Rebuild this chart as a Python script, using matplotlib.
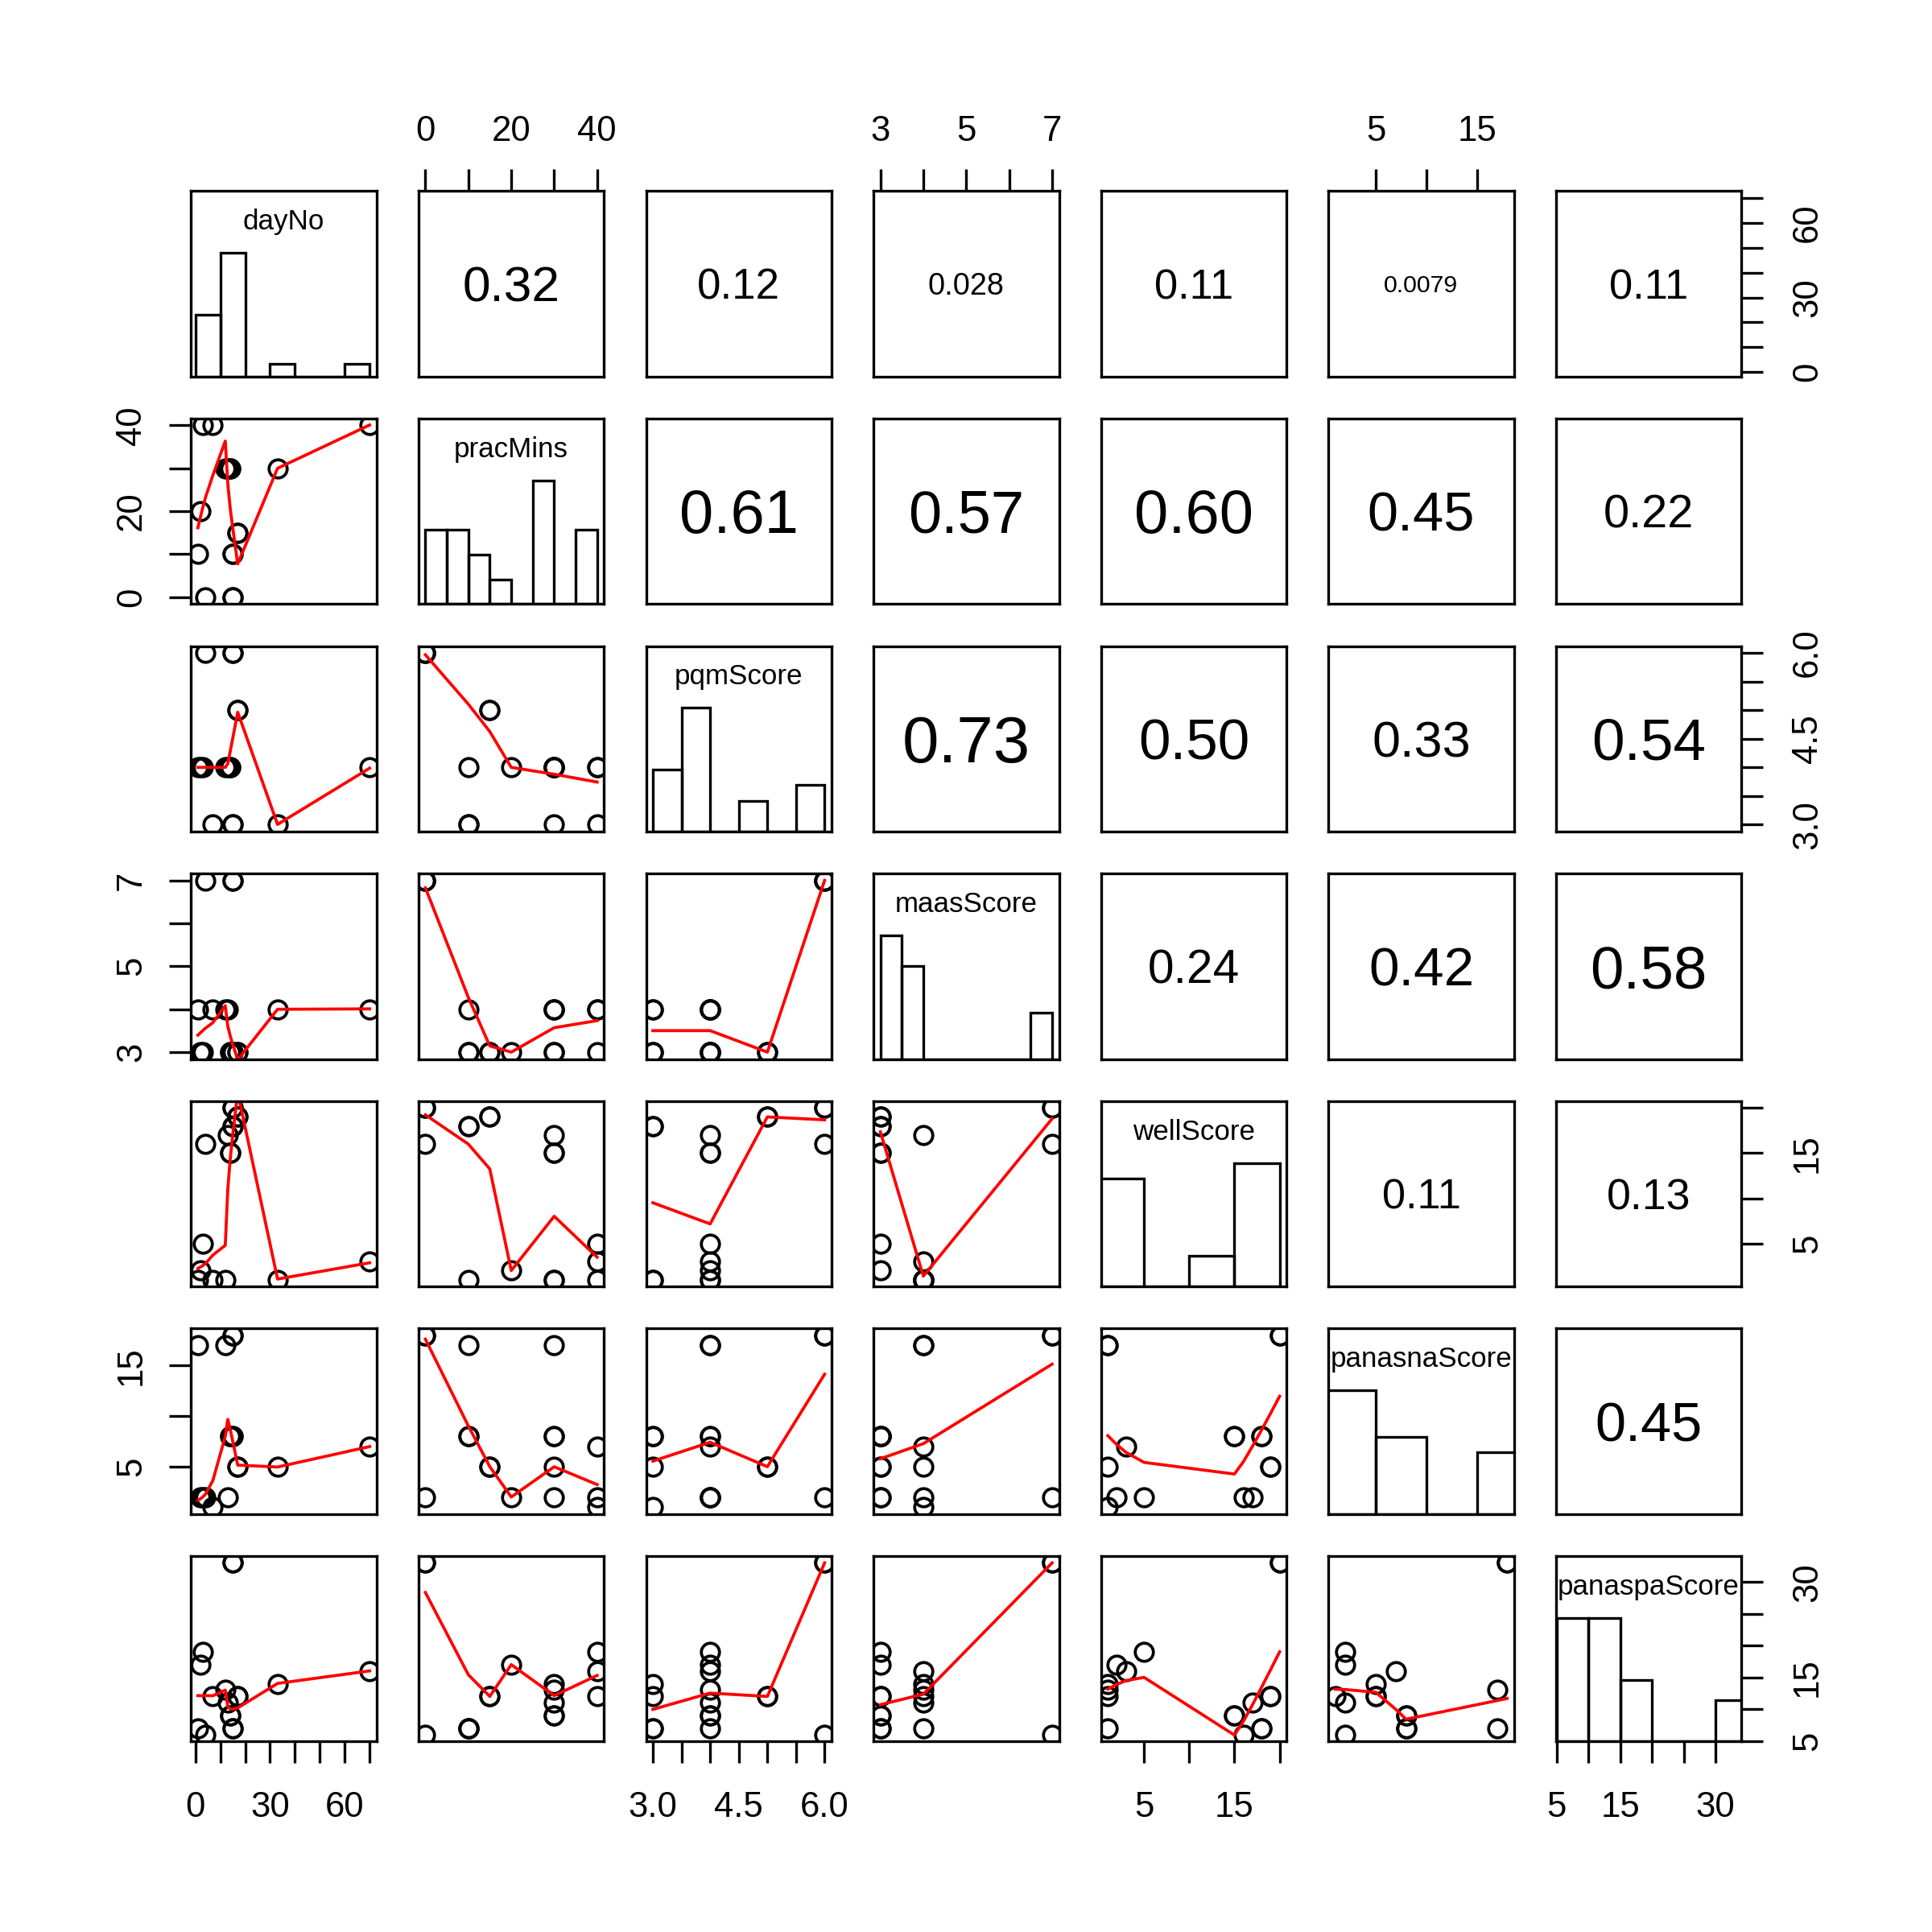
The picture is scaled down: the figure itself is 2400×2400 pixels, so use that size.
import numpy as np
import matplotlib
matplotlib.use("Agg")
import matplotlib.pyplot as plt
from matplotlib.patches import Rectangle
from matplotlib.transforms import blended_transform_factory, Affine2D

plt.rcParams['font.family'] = ['Liberation Sans', 'DejaVu Sans']

# data, one entry per session
var_names = ["dayNo", "pracMins", "pqmScore", "maasScore",
             "wellScore", "panasnaScore", "panaspaScore"]
dayNo        = [1, 2, 3, 4, 7, 12, 13, 14, 14, 15, 15, 15, 15, 17, 17, 33, 70]
pracMins     = [10, 20, 40, 0, 40, 30, 30, 30, 30, 10, 10, 0, 0, 15, 15, 30, 40]
pqmScore     = [4, 4, 4, 6, 3, 4, 4, 4, 4, 3, 3, 6, 6, 5, 5, 3, 4]
maasScore    = [4, 3, 3, 7, 4, 4, 4, 3, 3, 3, 3, 7, 7, 3, 3, 4, 4]
wellScore    = [1, 2, 5, 16, 1, 1, 17, 15, 15, 18, 18, 20, 20, 19, 19, 1, 3]
panasnaScore = [17, 2, 2, 2, 1, 17, 2, 8, 8, 8, 8, 18, 18, 5, 5, 5, 7]
panaspaScore = [7, 17, 19, 6, 12, 13, 11, 9, 9, 7, 7, 33, 33, 12, 12, 14, 16]

columns = [dayNo, pracMins, pqmScore, maasScore, wellScore, panasnaScore, panaspaScore]

# histogram breaks (what R's hist() picked)
breaks = [
    [0, 10, 20, 30, 40, 50, 60, 70],
    [0, 5, 10, 15, 20, 25, 30, 35, 40],
    [3.0, 3.5, 4.0, 4.5, 5.0, 5.5, 6.0],
    [3.0, 3.5, 4.0, 4.5, 5.0, 5.5, 6.0, 6.5, 7.0],
    [0, 5, 10, 15, 20],
    [0, 5, 10, 15, 20],
    [5, 10, 15, 20, 25, 30, 35],
]

# axis ticks and the labels R kept (blank = tick only)
tick_values = [
    [0, 10, 20, 30, 40, 50, 60, 70],
    [0, 10, 20, 30, 40],
    [3.0, 3.5, 4.0, 4.5, 5.0, 5.5, 6.0],
    [3, 4, 5, 6, 7],
    [5, 10, 15, 20],
    [5, 10, 15],
    [5, 10, 15, 20, 25, 30],
]
tick_labels = [
    ["0", "", "", "30", "", "", "60", ""],
    ["0", "", "20", "", "40"],
    ["3.0", "", "", "4.5", "", "", "6.0"],
    ["3", "", "5", "", "7"],
    ["5", "", "15", ""],
    ["5", "", "15"],
    ["5", "", "15", "", "", "30"],
]

DPI = 300
PX = DPI / 72.0
FIG_PX = 2400
PANEL_LEFT, PANEL_STEP, PANEL_SIZE = 237.3, 282.6, 230.4

LW = 0.8
TICK_LEN = 6.5
LABEL_OFF = 18.7
AXIS_FS = 10.5
DIAG_FS = 0.8 * AXIS_FS
DIGIT_H = 0.716


def pad_range(v):
    lo, hi = min(v), max(v)
    d = 0.04 * (hi - lo)
    return lo - d, hi + d


# port of R's clowess
def _lowest(X, Y, n, xs, nleft, nright, w, userw, rw):
    rng = X[n] - X[1]
    h = max(xs - X[nleft], X[nright] - xs)
    h9, h1 = 0.999 * h, 0.001 * h
    a = 0.0
    j = nleft
    while j <= n:
        w[j] = 0.0
        r = abs(X[j] - xs)
        if r <= h9:
            if r <= h1:
                w[j] = 1.0
            else:
                w[j] = (1 - (r / h) ** 3) ** 3
            if userw:
                w[j] *= rw[j]
            a += w[j]
        elif X[j] > xs:
            break
        j += 1
    nrt = j - 1
    if a <= 0:
        return None
    for j in range(nleft, nrt + 1):
        w[j] /= a
    if h > 0:
        a = sum(w[j] * X[j] for j in range(nleft, nrt + 1))
        b = xs - a
        c = sum(w[j] * (X[j] - a) ** 2 for j in range(nleft, nrt + 1))
        if np.sqrt(c) > 0.001 * rng:
            b /= c
            for j in range(nleft, nrt + 1):
                w[j] *= (b * (X[j] - a) + 1.0)
    return sum(w[j] * Y[j] for j in range(nleft, nrt + 1))


def lowess(x, y, f=2 / 3, nsteps=3):
    o = np.argsort(x, kind="stable")
    xs_ = np.asarray(x, float)[o]
    ys_ = np.asarray(y, float)[o]
    n = len(xs_)
    delta = 0.01 * (xs_[-1] - xs_[0])
    X = [0.0] + list(xs_)
    Y = [0.0] + list(ys_)
    YS = [0.0] * (n + 1)
    RW = [0.0] * (n + 1)
    RES = [0.0] * (n + 1)
    ns = max(2, min(n, int(f * n + 1e-7)))
    it = 1
    while it <= nsteps + 1:
        nleft, nright, last, i = 1, ns, 0, 1
        while True:
            if nright < n:
                d1 = X[i] - X[nleft]
                d2 = X[nright + 1] - X[i]
                if d1 > d2:
                    nleft += 1
                    nright += 1
                    continue
            v = _lowest(X, Y, n, X[i], nleft, nright, RES, it > 1, RW)
            YS[i] = Y[i] if v is None else v
            if last < i - 1:
                denom = X[i] - X[last]
                for j in range(last + 1, i):
                    alpha = (X[j] - X[last]) / denom
                    YS[j] = alpha * YS[i] + (1 - alpha) * YS[last]
            last = i
            cut = X[last] + delta
            i = last + 1
            while i <= n:
                if X[i] > cut:
                    break
                if X[i] == X[last]:
                    YS[i] = YS[last]
                    last = i
                i += 1
            i = max(last + 1, i - 1)
            if last >= n:
                break
        for k in range(1, n + 1):
            RES[k] = Y[k] - YS[k]
        sc = sum(abs(RES[k]) for k in range(1, n + 1)) / n
        if it > nsteps:
            break
        s = sorted(abs(RES[k]) for k in range(1, n + 1))
        m1 = n // 2
        if n % 2 == 0:
            cmad = 3.0 * (s[m1] + s[n - m1 - 1])
        else:
            cmad = 6.0 * s[m1]
        if cmad < 1e-7 * sc:
            break
        c9, c1 = 0.999 * cmad, 0.001 * cmad
        for k in range(1, n + 1):
            r = abs(RES[k])
            if r <= c1:
                RW[k] = 1.0
            elif r <= c9:
                RW[k] = (1 - (r / cmad) ** 2) ** 2
            else:
                RW[k] = 0.0
        it += 1
    return xs_, np.array(YS[1:])


def r_hist(v, br):
    idx = np.searchsorted(br, v, side="left") - 1
    idx = np.clip(idx, 0, len(br) - 2)
    return np.bincount(idx, minlength=len(br) - 1)


def r_format(r):
    if r == 0:
        return "0.00"
    e = int(np.floor(np.log10(r)))
    dec = max(0, 1 - e)
    s = f"{r:.{dec}f}"
    need = len(s.split(".")[1].rstrip("0")) if "." in s else 0
    return f"{r:.{max(2, need)}f}"


def str_em(txt):
    return sum(0.278 if ch == "." else 0.556 for ch in txt)


def draw_axis(ax, side, k):
    ticks, labels = tick_values[k], tick_labels[k]
    h = DIGIT_H * AXIS_FS
    if side in ("top", "bottom"):
        ax.set_xticks(ticks)
        ax.tick_params(axis="x", direction="out", length=TICK_LEN, width=LW,
                       top=(side == "top"), bottom=(side == "bottom"),
                       labeltop=False, labelbottom=False)
        for t, lab in zip(ticks, labels):
            if not lab:
                continue
            if side == "top":
                xy, off = (t, 1), (0, LABEL_OFF - h / 2)
            else:
                xy, off = (t, 0), (0, -(LABEL_OFF + h / 2))
            ax.annotate(lab, xy=xy, xycoords=("data", "axes fraction"),
                        xytext=off, textcoords="offset points",
                        ha="center", va="baseline", fontsize=AXIS_FS,
                        annotation_clip=False)
    else:
        ax.set_yticks(ticks)
        ax.tick_params(axis="y", direction="out", length=TICK_LEN, width=LW,
                       left=(side == "left"), right=(side == "right"),
                       labelleft=False, labelright=False)
        for t, lab in zip(ticks, labels):
            if not lab:
                continue
            if side == "left":
                xy, off = (0, t), (-(LABEL_OFF - h / 2), 0)
            else:
                xy, off = (1, t), (LABEL_OFF + h / 2, 0)
            ax.annotate(lab, xy=xy, xycoords=("axes fraction", "data"),
                        xytext=off, textcoords="offset points",
                        ha="center", va="baseline", rotation=90,
                        rotation_mode="anchor", fontsize=AXIS_FS,
                        annotation_clip=False)


fig = plt.figure(figsize=(FIG_PX / DPI, FIG_PX / DPI), dpi=DPI)
nv = len(columns)

for i in range(nv):
    for j in range(nv):
        left = (PANEL_LEFT + PANEL_STEP * j) / FIG_PX
        bottom = 1 - (PANEL_LEFT + PANEL_STEP * i + PANEL_SIZE) / FIG_PX
        ax = fig.add_axes([left, bottom, PANEL_SIZE / FIG_PX, PANEL_SIZE / FIG_PX])
        x = np.array(columns[j], float)
        y = np.array(columns[i], float)
        ax.set_xlim(pad_range(x))
        ax.set_ylim(pad_range(y))
        ax.set_xticks([])
        ax.set_yticks([])
        for sp in ax.spines.values():
            sp.set_linewidth(LW)

        if i == j:
            br = breaks[j]
            cnt = r_hist(x, br)
            hgt = cnt / cnt.max()
            trans = blended_transform_factory(
                ax.transData, Affine2D().scale(1, 1 / 1.5) + ax.transAxes)
            for a, b, hh in zip(br[:-1], br[1:], hgt):
                ax.add_patch(Rectangle((a, 0), b - a, hh, transform=trans,
                                       fill=False, edgecolor="black", lw=LW))
            ax.text(0.5, 0.833, var_names[j], transform=ax.transAxes,
                    ha="center", va="center", fontsize=DIAG_FS)
        elif i > j:
            ax.plot(x, y, "o", mfc="none", mec="black", ms=5.4, mew=0.9)
            lx, ly = lowess(x, y)
            ax.plot(lx, ly, color="red", lw=0.9)
        else:
            r = abs(np.corrcoef(x, y)[0, 1])
            txt = r_format(r)
            width_px = 0.8 * (1 + r) / 2 * PANEL_SIZE
            fs = width_px / (str_em(txt) * PX)
            yb = 0.5 - (DIGIT_H * fs * PX / 2) / PANEL_SIZE
            ax.text(0.5, yb, txt, transform=ax.transAxes, ha="center",
                    va="baseline", fontsize=fs)

        if i == 0 and j % 2 == 1:
            draw_axis(ax, "top", j)
        if i == nv - 1 and j % 2 == 0:
            draw_axis(ax, "bottom", j)
        if j == 0 and i % 2 == 1:
            draw_axis(ax, "left", i)
        if j == nv - 1 and i % 2 == 0:
            draw_axis(ax, "right", i)

fig.savefig("out.png", dpi=DPI, facecolor="white")
